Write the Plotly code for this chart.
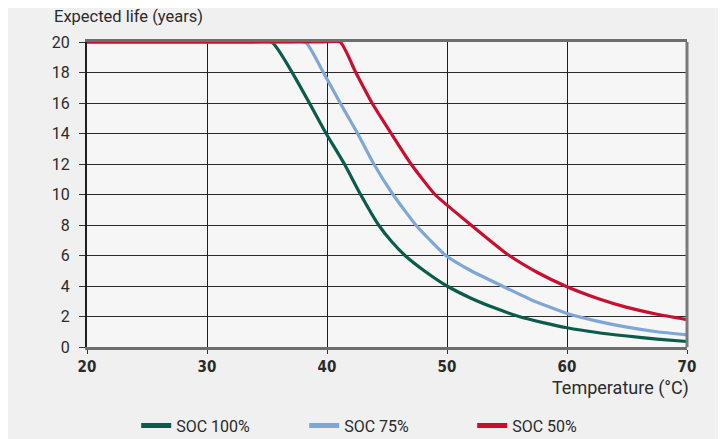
import plotly.graph_objects as go

# Data
temp_100 = [20, 33.5, 35.4, 40, 41.45, 42.8, 44.3, 45.4, 46.5, 48.1, 50, 52, 54, 56, 58, 60, 62.5, 65, 67.5, 70]
life_100 = [20, 20, 20, 13.9, 12, 10, 8, 6.9, 6, 5.0, 4.0, 3.2, 2.55, 2.0, 1.6, 1.26, 0.95, 0.72, 0.52, 0.36]

temp_75 = [20, 36.5, 38.2, 39.7, 41.1, 42.55, 43.9, 45.5, 47.4, 48.6, 49.9, 52, 54.6, 57, 60, 62.5, 65, 67.5, 70]
life_75 = [20, 20, 20, 18, 16, 14, 12, 10, 8, 7, 6, 5, 4, 3.1, 2.2, 1.7, 1.3, 1.0, 0.8]

temp_50 = [20, 39.5, 41.1, 42.4, 43.75, 45.35, 47, 49, 52, 55, 57.5, 60, 62.5, 65, 67.5, 70]
life_50 = [20, 20, 20, 18, 16, 14, 12, 10, 8, 6.1, 4.9, 3.95, 3.2, 2.6, 2.15, 1.8]

series_names = ["SOC 100%", "SOC 75%", "SOC 50%"]
series_colors = ["#0b5c4a", "#7fa7d6", "#c8102e"]
x_ticks = [20, 30, 40, 50, 60, 70]
y_ticks = [0, 2, 4, 6, 8, 10, 12, 14, 16, 18, 20]

fig = go.Figure()
data = [(temp_100, life_100), (temp_75, life_75), (temp_50, life_50)]
for (xs, ys), name, col in zip(data, series_names, series_colors):
    fig.add_trace(go.Scatter(x=xs, y=ys, mode="lines", name=name,
                             line=dict(color=col, width=3.2, shape="spline", smoothing=0.5),
                             showlegend=False, cliponaxis=True))
# legend-only entries with thicker swatches
for name, col in zip(series_names, series_colors):
    fig.add_trace(go.Scatter(x=[None], y=[None], mode="lines", name=name,
                             line=dict(color=col, width=5), showlegend=True))

fig.update_layout(
    width=726, height=439,
    margin=dict(l=79, r=47, t=34, b=100, autoexpand=False),
    paper_bgcolor="#f0f0f0",
    plot_bgcolor="#f6f6f6",
    font=dict(family="Roboto, 'Open Sans', sans-serif", color="#2b2b2b", size=14),
    showlegend=True,
    legend=dict(orientation="h", x=0.082, xanchor="left", yref="container", y=0.01,
                yanchor="bottom",
                entrywidth=123, entrywidthmode="pixels", itemwidth=30,
                font=dict(size=16, color="#2b2b2b", family="Roboto, sans-serif"),
                bgcolor="rgba(0,0,0,0)"),
    xaxis=dict(range=[20, 70], tickvals=x_ticks, ticktext=[str(v) for v in x_ticks],
               showgrid=True, gridcolor="#1e1e1e", gridwidth=1,
               showline=True, linecolor="#6e6e6e", linewidth=3, mirror=True,
               ticks="outside", ticklen=4, tickcolor="#333", tickwidth=1,
               tickfont=dict(family="'Liberation Sans Narrow', 'Arial Narrow', 'DejaVu Sans Condensed', sans-serif",
                             size=15, color="#2b2b2b", weight="bold"),
               zeroline=False, fixedrange=True),
    yaxis=dict(range=[0, 20], tickvals=y_ticks,
               showgrid=True, gridcolor="#2a2a2a", gridwidth=1,
               showline=True, linecolor="#1e1e1e", linewidth=2,
               ticks="outside", ticklen=6, tickcolor="#333", tickwidth=1,
               ticklabelstandoff=6,
               tickfont=dict(size=16, color="#2b2b2b"),
               zeroline=False, fixedrange=True),
    annotations=[
        dict(text="Expected life (years)", xref="paper", yref="paper", x=-0.055, y=1.0,
             xshift=-2, yshift=26, xanchor="left", yanchor="middle", showarrow=False,
             font=dict(size=16.5, color="#2b2b2b")),
        dict(text="Temperature (°C)", xref="paper", yref="paper", x=1.0, y=0,
             xshift=4, yshift=-41, xanchor="right", yanchor="middle", showarrow=False,
             font=dict(size=18, color="#2b2b2b")),
    ],
    shapes=[
        dict(type="line", xref="x domain", yref="y domain", x0=1, x1=1, y0=0, y1=1,
             line=dict(color="#7a7a7a", width=3), layer="above"),
    ],
)

fig.write_html("out.html")
